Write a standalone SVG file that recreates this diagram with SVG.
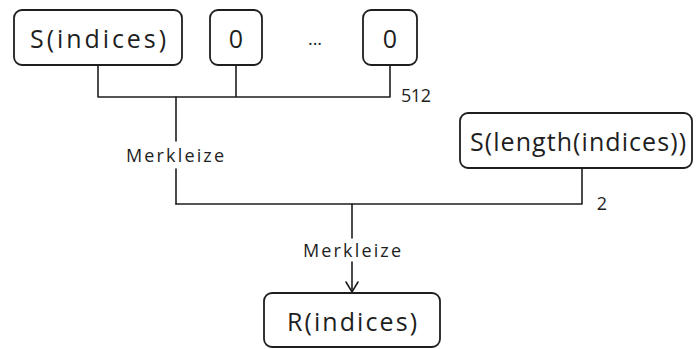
<svg xmlns="http://www.w3.org/2000/svg" width="696" height="349" viewBox="0 0 696 349">
<style>
.box{fill:#fff;stroke:#1e1e1e;stroke-width:1.8}
.ln{fill:none;stroke:#1e1e1e;stroke-width:1.6;stroke-linecap:round}
.t{font-family:"Open Sans",sans-serif;fill:#1e1e1e;text-anchor:middle;dominant-baseline:central}
.big{font-size:25px}
.sm{font-size:18px}
</style>
<rect width="696" height="349" fill="#fff"/>
<g id="connectors">
<path class="ln" d="M98 65 V97 M236 65 V97 M390 65 V97 M98 97 H390"/>
<path class="ln" d="M176 97 V141 M176 169 V204"/>
<path class="ln" d="M582 168 V204 M176 204 H582"/>
<path class="ln" d="M352 204 V238 M352 262 V292"/>
<path class="ln" d="M346 282 L352 292 L358 282"/>
<text class="t sm" x="416" y="95" textLength="30" lengthAdjust="spacing">512</text>
<text class="t sm" x="602" y="203">2</text>
<text class="t sm" x="175" y="155" textLength="98" lengthAdjust="spacing">Merkleize</text>
<text class="t sm" x="352" y="250" textLength="98" lengthAdjust="spacing">Merkleize</text>
</g>
<g id="n1"><rect class="box" x="14" y="10" width="168" height="55" rx="8"/><text class="t big" x="98" y="38" textLength="136" lengthAdjust="spacing">S(indices)</text></g>
<g id="n2"><rect class="box" x="210" y="10" width="52" height="55" rx="8"/><text class="t big" x="236" y="38">0</text></g>
<g id="dots"><text class="t sm" x="315" y="38">...</text></g>
<g id="n3"><rect class="box" x="363" y="10" width="54" height="55" rx="8"/><text class="t big" x="390" y="38">0</text></g>
<g id="n4"><rect class="box" x="460" y="113" width="232" height="55" rx="8"/><text class="t big" x="578" y="141" textLength="216" lengthAdjust="spacing">S(length(indices))</text></g>
<g id="n5"><rect class="box" x="264" y="293" width="176" height="54" rx="8"/><text class="t big" x="352" y="321" textLength="130" lengthAdjust="spacing">R(indices)</text></g>
</svg>
